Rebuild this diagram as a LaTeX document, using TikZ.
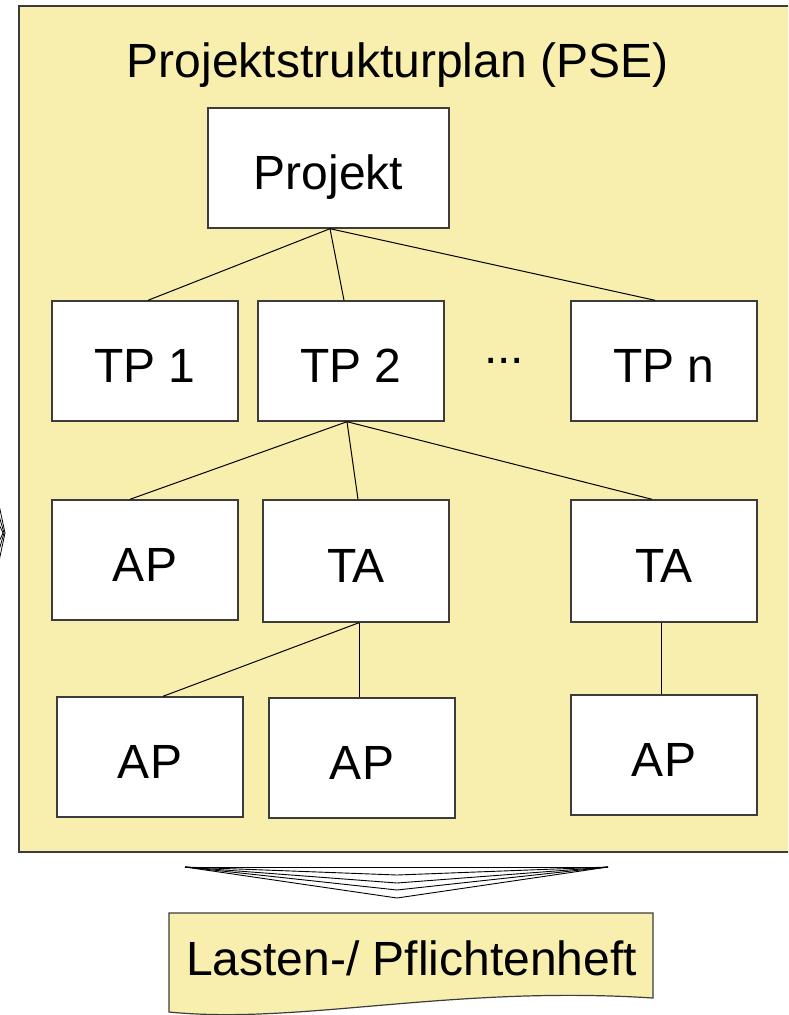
\documentclass[tikz,border=0pt]{standalone}
\usepackage{fontspec}
\setmainfont{Liberation Sans}
\definecolor{paleyellow}{RGB}{248,238,174}
\definecolor{frameline}{RGB}{60,60,60}
\begin{document}
\begin{tikzpicture}[x=1pt,y=-1pt,
  boxnode/.style={draw=frameline,line width=1.4pt,fill=white,minimum width=186pt,minimum height=120pt,inner sep=0pt,
    font=\fontsize{48}{52}\selectfont,text height=42pt,text depth=0pt},
  conn/.style={draw=black,line width=1pt},
  bigtext/.style={font=\fontsize{48}{52}\selectfont,inner sep=0pt,anchor=base},
  chev/.style={draw=black,line width=0.9pt}]
\clip (0,0) rectangle (788,1015);
\useasboundingbox (0,0) rectangle (788,1015);
% frame
\draw[frameline,line width=1.8pt,fill=paleyellow] (19,6) rectangle (820,852);
\node[bigtext] (title) at (397.5,77) {Projektstrukturplan (PSE)};
% boxes
\node[boxnode,minimum width=241pt] (proj) at (328.5,168) {Projekt};
\node[boxnode] (tp1) at (145,361) {TP 1};
\node[boxnode] (tp2) at (351,361) {TP 2};
\node[boxnode] (tpn) at (664,361) {TP n};
\node[bigtext] (dots) at (504,363) {...};
\node[boxnode] (ap1) at (145,560) {AP};
\node[boxnode,minimum height=122pt] (ta1) at (356,561) {TA};
\node[boxnode,minimum height=122pt] (ta2) at (664,561) {TA};
\node[boxnode] (ap2) at (150,757) {AP};
\node[boxnode] (ap3) at (362,758) {AP};
\node[boxnode] (ap4) at (664,755) {AP};
% connectors
\draw[conn] ([xshift=1.5pt]proj.south) -- ([xshift=3pt]tp1.north);
\draw[conn] ([xshift=1.5pt]proj.south) -- ([xshift=-7pt]tp2.north);
\draw[conn] ([xshift=1.5pt]proj.south) -- ([xshift=-9pt]tpn.north);
\draw[conn] ([xshift=-4pt]tp2.south) -- ([xshift=-15pt]ap1.north);
\draw[conn] ([xshift=-4pt]tp2.south) -- ([xshift=2pt]ta1.north);
\draw[conn] ([xshift=-4pt]tp2.south) -- ([xshift=-12pt]ta2.north);
\draw[conn] ([xshift=3pt]ta1.south) -- ([xshift=13pt]ap2.north);
\draw[conn] ([xshift=3pt]ta1.south) -- ([xshift=-3pt]ap3.north);
\draw[conn] ([xshift=-3pt]ta2.south) -- ([xshift=-3pt]ap4.north);
% hatched arrow
\coordinate (al) at (185,867);
\coordinate (ar) at (608,867);
\draw[chev] (al) -- (ar);
\draw[chev] (al) -- (397,875) -- (ar);
\draw[chev] (al) -- (397,883) -- (ar);
\draw[chev] (al) -- (397,890) -- (ar);
\draw[chev] (al) -- (397,898) -- (ar);
% document shape
\draw[frameline,line width=1.2pt,fill=paleyellow] (169,913) -- (653,913) -- (653,998)
  .. controls (450,985) and (300,1025) .. (169,1012) -- cycle;
\node[bigtext] (doc) at (411.5,975) {Lasten-/ Pflichtenheft};
% fragment at left edge
\draw[chev,line width=0.8pt] (-2,500) -- (5,533) -- (-2,566);
\draw[chev,line width=0.8pt] (-2,512) -- (4,533) -- (-2,554);
\draw[chev,line width=0.8pt] (-2,522) -- (3,533) -- (-2,544);
\end{tikzpicture}
\end{document}
